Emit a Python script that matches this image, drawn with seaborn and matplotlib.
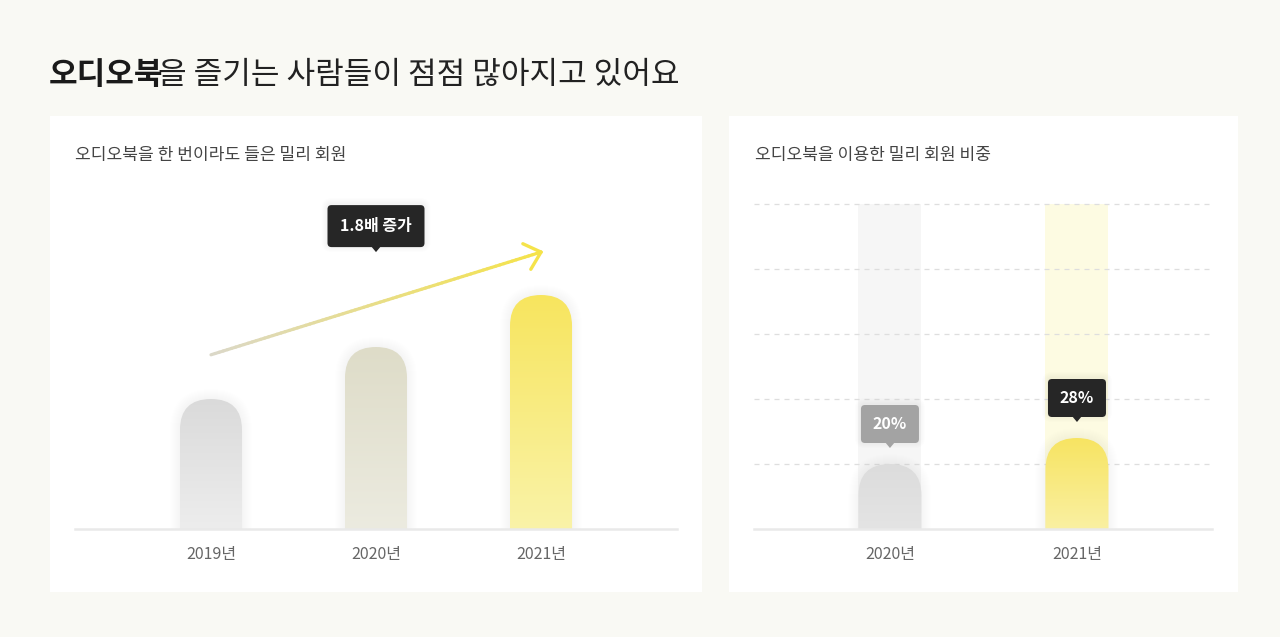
import numpy as np
import matplotlib
matplotlib.use("Agg")
import matplotlib.pyplot as plt
import matplotlib.transforms as mtransforms
from matplotlib.patches import FancyBboxPatch, Polygon
from matplotlib.colors import LinearSegmentedColormap
from matplotlib.collections import LineCollection
import seaborn as sns

# ---- data ----
title_bold = "오디오북"
title_rest = "을 즐기는 사람들이 점점 많아지고 있어요"
left_title = "오디오북을 한 번이라도 들은 밀리 회원"
right_title = "오디오북을 이용한 밀리 회원 비중"

left_years = ["2019년", "2020년", "2021년"]
left_values = [1.0, 1.4, 1.8]          # relative to 2019
right_years = ["2020년", "2021년"]
right_share = [20, 28]                  # %
right_full = [100, 100]
grid_levels = [20, 40, 60, 80, 100]

# ---- styles ----
BG = "#f9f9f4"
left_top = ["#dadada", "#dedcc8", "#f7e55e"]
left_bottom = ["#ededed", "#ecebe0", "#faf3a8"]
right_top = ["#dcdcdc", "#f7e462"]
right_bottom = ["#e4e4e4", "#faf0a2"]
right_back = ["#f6f6f6", "#fdfbe2"]
right_tip = ["#a3a3a3", "#262626"]

sns.set_theme(style="white")
plt.rcParams["font.family"] = ["Noto Sans CJK KR", "DejaVu Sans"]

W, H = 1280, 637
fig = plt.figure(figsize=(W / 100, H / 100), dpi=100)
fig.patch.set_facecolor(BG)
IDT = mtransforms.IdentityTransform()


def px_axes(x0, y0, x1, y1):
    return fig.add_axes([x0 / W, 1 - y1 / H, (x1 - x0) / W, (y1 - y0) / H])


# white panels
for box in [(50, 116, 702, 592), (729, 116, 1238, 592)]:
    pa = px_axes(*box)
    pa.set_facecolor("white")
    pa.set_xticks([])
    pa.set_yticks([])
    for s in pa.spines.values():
        s.set_visible(False)

# title
bold_txt = fig.text(49 / W, 1 - 84 / H, title_bold, fontsize=22.4, weight="bold",
                    color="#1a1a1a", va="baseline", ha="left")
fig.add_artist(matplotlib.text.Annotation(title_rest, xy=(1, 0), xycoords=bold_txt,
                                          xytext=(-5, 0), textcoords="offset pixels",
                                          va="bottom", ha="left", fontsize=22.4, color="#222222"))
fig.text(75 / W, 1 - 155 / H, left_title, fontsize=12.3, color="#444444", va="center")
fig.text(755 / W, 1 - 155 / H, right_title, fontsize=12.3, color="#444444", va="center")


def style_axes(ax):
    ax.set_facecolor("none")
    ax.set_xlabel("")
    ax.set_ylabel("")
    ax.set_yticks([])
    for k in ["top", "left", "right"]:
        ax.spines[k].set_visible(False)
    ax.spines["bottom"].set_color("#e9e9e9")
    ax.spines["bottom"].set_linewidth(1.8)
    ax.spines["bottom"].set_zorder(5)
    ax.tick_params(axis="x", length=0, pad=12, labelsize=11.5, labelcolor="#666666")


def round_bars(ax, bars, tops, bottoms, xlim, ylim, shadow=True):
    for p, ct, cb in zip(bars, tops, bottoms):
        p.set_visible(False)
        x0, w, h = p.get_x(), p.get_width(), p.get_height()
        dx0, dy0 = ax.transData.transform((x0, 0))
        dx1, dy1 = ax.transData.transform((x0 + w, h))
        pw = dx1 - dx0
        r = pw / 2
        if shadow:
            for k in range(1, 11):
                sh = FancyBboxPatch((dx0 - k, dy0 - r - k), pw + 2 * k, dy1 - dy0 + r + 2 * k,
                                    boxstyle=f"round,pad=0,rounding_size={r + k}",
                                    transform=IDT, fc="#000000", ec="none", alpha=0.0028, zorder=2)
                ax.add_patch(sh)
        shape = FancyBboxPatch((dx0, dy0 - r), pw, dy1 - dy0 + r,
                               boxstyle=f"round,pad=0,rounding_size={r}",
                               transform=IDT, fc="none", ec="none", zorder=3)
        ax.add_patch(shape)
        cmap = LinearSegmentedColormap.from_list("g", [cb, ct])
        im = ax.imshow(np.linspace(0, 1, 256).reshape(-1, 1), extent=(x0, x0 + w, 0, h),
                       origin="lower", aspect="auto", cmap=cmap, zorder=3)
        im.set_clip_path(shape)
    ax.set_xlim(*xlim)
    ax.set_ylim(*ylim)


def tooltip(ax, x, y, text, fc, w, h, gap, fs):
    tx, ty = ax.transData.transform((x, y))
    ty += gap
    th = 5
    for k in range(1, 7):
        ax.add_patch(FancyBboxPatch((tx - w / 2 - k, ty + th - k + 1), w + 2 * k, h + 2 * k,
                                    boxstyle=f"round,pad=0,rounding_size={4 + k}", transform=IDT,
                                    fc="#000000", ec="none", alpha=0.006, zorder=6, clip_on=False))
    ax.add_patch(Polygon([(tx, ty), (tx - 5, ty + th + 1), (tx + 5, ty + th + 1)], closed=True,
                         transform=IDT, fc=fc, ec="none", zorder=7, clip_on=False))
    ax.add_patch(FancyBboxPatch((tx - w / 2, ty + th), w, h, boxstyle="round,pad=0,rounding_size=4",
                                transform=IDT, fc=fc, ec="none", zorder=7, clip_on=False))
    ax.text(tx, ty + th + h / 2, text, transform=IDT, ha="center", va="center",
            color="white", fontsize=fs, weight="bold", zorder=8)


# ---- left chart ----
axl = px_axes(75, 200, 677, 529)
sns.barplot(x=left_years, y=left_values, ax=axl, width=0.376, color="#dddddd", errorbar=None)
style_axes(axl)
lxlim, lylim = (-0.824, 2.824), (0, 329 / 130)
axl.set_xlim(*lxlim)
axl.set_ylim(*lylim)
round_bars(axl, axl.containers[0], left_top, left_bottom, lxlim, lylim)

# growth arrow
start = np.array([0, left_values[0] + 0.34])
end = np.array([2, left_values[2] + 0.33])
n = 80
pts = np.linspace(start, end, n + 1)
segs = np.stack([pts[:-1], pts[1:]], axis=1)
acmap = LinearSegmentedColormap.from_list("a", ["#dbd8c8", "#f5e34a"])
axl.add_collection(LineCollection(segs, colors=acmap(np.linspace(0, 1, n)), linewidths=2.3,
                                  capstyle="round", zorder=4))
ds, de = axl.transData.transform(start), axl.transData.transform(end)
d = (de - ds) / np.linalg.norm(de - ds)
for ang in (42, -42):
    a = np.deg2rad(ang)
    rot = np.array([[np.cos(a), -np.sin(a)], [np.sin(a), np.cos(a)]])
    leg = de - 20 * rot @ d
    axl.plot([de[0], leg[0]], [de[1], leg[1]], transform=IDT, color="#f5e34a", lw=2.4,
             solid_capstyle="round", zorder=4)
axl.set_xlim(*lxlim)
axl.set_ylim(*lylim)

ratio = left_values[2] / left_values[0]
tooltip(axl, 1, left_values[2] + 0.33, f"{ratio:.1f}배 증가", "#262626", 97, 42, 0, 11.5)

# ---- right chart ----
axr = px_axes(754, 195, 1212, 529)
sns.barplot(x=right_years, y=right_full, ax=axr, width=0.337, color="#eeeeee", errorbar=None)
sns.barplot(x=right_years, y=right_share, ax=axr, width=0.337, color="#dddddd", errorbar=None)
style_axes(axr)
rxlim, rylim = (-0.727, 1.722), (0, 334 / 3.25)
axr.set_xlim(*rxlim)
axr.set_ylim(*rylim)
for p, c in zip(axr.containers[0], right_back):
    p.set_facecolor(c)
    p.set_edgecolor("none")
    p.set_zorder(1)
for g in grid_levels:
    axr.axhline(g, color="#dedede", lw=0.9, ls=(0, (4, 4)), zorder=1.5)
round_bars(axr, axr.containers[1], right_top, right_bottom, rxlim, rylim)
for i, (v, c) in enumerate(zip(right_share, right_tip)):
    tooltip(axr, i, v, f"{v}%", c, 58, 38, 16, 11.5)

fig.savefig("out.png", dpi=100, facecolor=BG)
